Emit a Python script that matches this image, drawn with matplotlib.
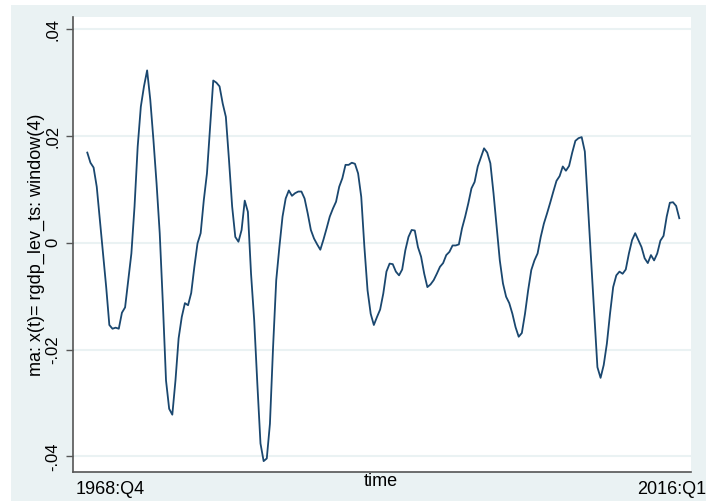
import numpy as np
import matplotlib
matplotlib.use("Agg")
import matplotlib.pyplot as plt
from matplotlib.patches import Rectangle

plt.rcParams['font.family'] = ['Liberation Sans', 'DejaVu Sans']

# 4-quarter moving average of rgdp_lev_ts
ma_values = [
    0.0169, 0.0150, 0.0141, 0.0105, 0.0043, -0.0020, -0.0083, -0.0154, -0.0161, -0.0159,
    -0.0161, -0.0131, -0.0121, -0.0070, -0.0020, 0.0068, 0.0180, 0.0255, 0.0293, 0.0323,
    0.0268, 0.0193, 0.0111, 0.0018, -0.0114, -0.0258, -0.0311, -0.0322, -0.0258, -0.0179,
    -0.0139, -0.0113, -0.0117, -0.0094, -0.0045, -0.0001, 0.0018, 0.0080, 0.0130, 0.0218,
    0.0304, 0.0300, 0.0293, 0.0261, 0.0236, 0.0155, 0.0068, 0.0011, 0.0002, 0.0024,
    0.0079, 0.0058, -0.0058, -0.0145, -0.0264, -0.0376, -0.0409, -0.0404, -0.0339, -0.0195,
    -0.0070, -0.0008, 0.0049, 0.0083, 0.0098, 0.0088, 0.0093, 0.0096, 0.0096, 0.0083,
    0.0055, 0.0024, 0.0008, -0.0003, -0.0013, 0.0006, 0.0027, 0.0049, 0.0064, 0.0077,
    0.0105, 0.0121, 0.0146, 0.0146, 0.0150, 0.0148, 0.0130, 0.0086, -0.0008, -0.0089,
    -0.0133, -0.0154, -0.0139, -0.0125, -0.0095, -0.0054, -0.0039, -0.0040, -0.0054, -0.0061,
    -0.0050, -0.0014, 0.0011, 0.0024, 0.0023, -0.0008, -0.0026, -0.0058, -0.0083, -0.0078,
    -0.0070, -0.0058, -0.0045, -0.0038, -0.0023, -0.0017, -0.0005, -0.0005, -0.0003, 0.0027,
    0.0049, 0.0074, 0.0102, 0.0114, 0.0143, 0.0160, 0.0177, 0.0169, 0.0149, 0.0093,
    0.0030, -0.0033, -0.0076, -0.0101, -0.0113, -0.0133, -0.0158, -0.0176, -0.0169, -0.0133,
    -0.0089, -0.0051, -0.0033, -0.0020, 0.0011, 0.0036, 0.0055, 0.0075, 0.0096, 0.0116,
    0.0125, 0.0143, 0.0135, 0.0144, 0.0169, 0.0191, 0.0196, 0.0198, 0.0171, 0.0068,
    -0.0033, -0.0133, -0.0233, -0.0253, -0.0229, -0.0189, -0.0133, -0.0083, -0.0061, -0.0054,
    -0.0058, -0.0050, -0.0020, 0.0005, 0.0018, 0.0005, -0.0008, -0.0029, -0.0038, -0.0023,
    -0.0033, -0.0020, 0.0004, 0.0013, 0.0049, 0.0075, 0.0076, 0.0069, 0.0046,
]
y_ticks = [-0.04, -0.02, 0, 0.02, 0.04]
y_tick_labels = ['-.04', '-.02', '0', '.02', '.04']
first_label = '1968:Q4'
last_label = '2016:Q1'

t = np.arange(len(ma_values))

bg = '#eaf2f3'
fig = plt.figure(figsize=(7.06, 5.01), dpi=100, facecolor='white')
# Stata-like outer background
fig.patches.append(Rectangle((11 / 706, 0), 1, 1 - 5 / 501, transform=fig.transFigure,
                             facecolor=bg, edgecolor='none', zorder=-5))

ax = fig.add_axes([73 / 706, 1 - 472 / 501, (690.5 - 73) / 706, (472 - 17) / 501])
ax.set_zorder(2)
ax.set_facecolor('white')
ax.plot(t, ma_values, color='#1a476f', lw=1.3, zorder=3)

ax.set_xlim(-4.54, len(ma_values) - 1 + 3.56)
ax.set_ylim(-0.04294, 0.0423)
ax.set_yticks(y_ticks)
ax.set_yticklabels(y_tick_labels, rotation=90, va='center', fontsize=12)
ax.set_xticks([])
ax.grid(axis='y', color=bg, lw=1.5, zorder=1)

for s in ['top', 'right']:
    ax.spines[s].set_visible(False)
for s in ['left', 'bottom']:
    ax.spines[s].set_color('#555555')
    ax.spines[s].set_linewidth(1.2)
ax.tick_params(axis='y', length=5, width=1, color='#555555', pad=4)

ax.set_ylabel('ma: x(t)= rgdp_lev_ts: window(4)', fontsize=13, labelpad=0)

fig.text(76 / 706, 1 - 494 / 501, first_label, fontsize=13, ha='left', va='baseline', zorder=5)
fig.text(706 / 706, 1 - 494 / 501, last_label, fontsize=13, ha='right', va='baseline', zorder=5)
fig.text(381 / 706, 1 - 481 / 501, 'time', fontsize=13, ha='center', va='center', zorder=5)

fig.savefig('out.png', dpi=100, facecolor=fig.get_facecolor())
